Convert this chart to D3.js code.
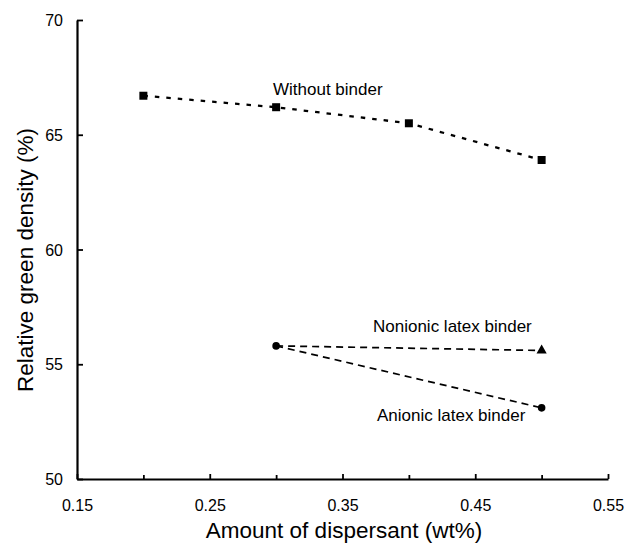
<!DOCTYPE html>
<html><head><meta charset="utf-8">
<script src="https://cdn.jsdelivr.net/npm/d3@7/dist/d3.min.js"></script>
<style>
body{margin:0;background:#fff;}
text{font-family:Arial,"Liberation Sans",Helvetica,sans-serif;fill:#000;}
</style></head>
<body>
<svg id="c" width="626" height="543"></svg>
<script>
const xTicks = [0.15, 0.25, 0.35, 0.45, 0.55];
const xMinorTicks = [0.2, 0.3, 0.4, 0.5];
const yTicks = [50, 55, 60, 65, 70];

const withoutX = [0.2, 0.3, 0.4, 0.5];
const withoutY = [66.7, 66.2, 65.5, 63.9];
const nonionicX = [0.3, 0.5];
const nonionicY = [55.8, 55.6];
const anionicX = [0.3, 0.5];
const anionicY = [55.8, 53.1];

const seriesLabels = ["Without binder", "Nonionic latex binder", "Anionic latex binder"];
const xTitle = "Amount of dispersant (wt%)";
const yTitle = "Relative green density (%)";

const svg = d3.select("#c");
const L = 77, R = 608, T = 20, B = 479;
const x = d3.scaleLinear().domain([0.15, 0.55]).range([L, R]);
const y = d3.scaleLinear().domain([50, 70]).range([B, T]);

// axes
const xAxis = svg.append("g").attr("transform", `translate(0,${B})`)
  .call(d3.axisBottom(x).tickValues(xTicks).tickSize(-5).tickSizeOuter(0).tickPadding(21).tickFormat(d3.format(".2f")));
svg.append("g").attr("transform", `translate(0,${B})`)
  .call(d3.axisBottom(x).tickValues(xMinorTicks).tickSize(-4).tickSizeOuter(0).tickFormat(""))
  .call(g => g.select(".domain").remove());
const yAxis = svg.append("g").attr("transform", `translate(${L},0)`)
  .call(d3.axisLeft(y).tickValues(yTicks).tickSize(-6).tickSizeOuter(0).tickPadding(14));
svg.selectAll(".domain").attr("stroke-width", 2.2);
svg.selectAll(".tick line").attr("stroke-width", 1.8);
xAxis.selectAll("text").attr("font-size", 16).attr("font-family", "Arial, Liberation Sans");
yAxis.selectAll("text").attr("font-size", 16).attr("font-family", "Arial, Liberation Sans").attr("dy", "0.35em");

// titles
svg.append("text").attr("x", 344).attr("y", 538)
  .attr("text-anchor", "middle").attr("font-size", 22.5).text(xTitle);
svg.append("text").attr("transform", `translate(33,260) rotate(-90)`)
  .attr("text-anchor", "middle").attr("font-size", 22.5).text(yTitle);

const line = d3.line().x(d => x(d[0])).y(d => y(d[1]));
const zip = (a, b) => a.map((v, i) => [v, b[i]]);

// lines
svg.append("path").datum(zip(withoutX, withoutY)).attr("d", line)
  .attr("fill", "none").attr("stroke", "#000").attr("stroke-width", 2.3).attr("stroke-dasharray", "4.5,7");
svg.append("path").datum(zip(nonionicX, nonionicY)).attr("d", line)
  .attr("fill", "none").attr("stroke", "#000").attr("stroke-width", 1.7).attr("stroke-dasharray", "7,5");
svg.append("path").datum(zip(anionicX, anionicY)).attr("d", line)
  .attr("fill", "none").attr("stroke", "#000").attr("stroke-width", 1.7).attr("stroke-dasharray", "7,5");

// markers
svg.selectAll(".sq").data(zip(withoutX, withoutY)).enter().append("rect")
  .attr("x", d => x(d[0]) - 4).attr("y", d => y(d[1]) - 4)
  .attr("width", 8).attr("height", 8).attr("fill", "#000");
svg.append("path").datum(zip(nonionicX, nonionicY)[1])
  .attr("d", d3.symbol().type(d3.symbolTriangle).size(45))
  .attr("transform", d => `translate(${x(d[0])},${y(d[1])})`).attr("fill", "#000");
svg.selectAll(".ci").data(zip(anionicX, anionicY)).enter().append("circle")
  .attr("cx", d => x(d[0])).attr("cy", d => y(d[1])).attr("r", 3.8).attr("fill", "#000");

// series labels
svg.append("text").attr("x", 273).attr("y", 95).attr("font-size", 17).text(seriesLabels[0]);
svg.append("text").attr("x", 373).attr("y", 332).attr("font-size", 17).text(seriesLabels[1]);
svg.append("text").attr("x", 377).attr("y", 421).attr("font-size", 17).text(seriesLabels[2]);
</script>
</body></html>
